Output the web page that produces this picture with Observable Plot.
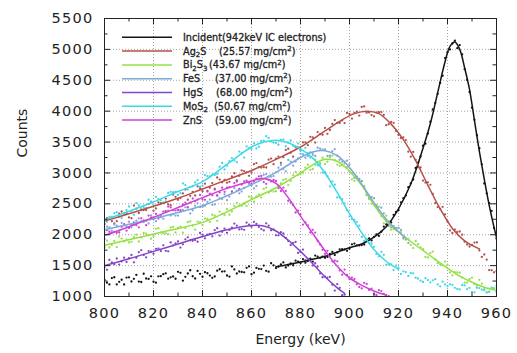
<!DOCTYPE html>
<html>
<head>
<meta charset="utf-8">
<script src="https://cdn.jsdelivr.net/npm/d3@7"></script>
<script src="https://cdn.jsdelivr.net/npm/@observablehq/plot@0.6"></script>
<style>
  body { margin: 0; background: #fff; }
  g[aria-label="x-axis tick label"] text, g[aria-label="y-axis tick label"] text { letter-spacing: 1.3px; }
</style>
</head>
<body>
<div id="chart"></div>
<script>
// ---------- data ----------
const keys = ["Incident", "Ag2S", "Bi2S3", "FeS", "HgS", "MoS2", "ZnS"];
const colors = ["#141414", "#b4504a", "#94e046", "#80a8d8", "#8445c8", "#3fd9e6", "#cf40d8"];

const legendFormula = ["Incident(942keV IC electrons)", "Ag_2S", "Bi_2S_3", "FeS", "HgS", "MoS_2", "ZnS"];
const legendThickness = ["", "(25.57 mg/cm^2)", "(43.67 mg/cm^2)", "(37.00 mg/cm^2)", "(68.00 mg/cm^2)", "(50.67 mg/cm^2)", "(59.00 mg/cm^2)"];

const xMajor = [800, 820, 840, 860, 880, 900, 920, 940, 960];
const xMinor = [810, 830, 850, 870, 890, 910, 930, 950];
const yMajor = [1000, 1500, 2000, 2500, 3000, 3500, 4000, 4500, 5000, 5500];
const yMinor = [1250, 1750, 2250, 2750, 3250, 3750, 4250, 4750, 5250];

// energies of the measured points (keV): even and odd channels
const dotEnergyEven = [800,802,804,806,808,810,812,814,816,818,820,822,824,826,828,830,832,834,836,838,
  840,842,844,846,848,850,852,854,856,858,860,862,864,866,868,870,872,874,876,878,
  880,882,884,886,888,890,892,894,896,898,900,902,904,906,908,910,912,914,916,918,
  920,922,924,926,928,930,932,934,936,938,940,942,944,946,948,950,952,954,956,958,960];
const dotEnergyOdd = [801,803,805,807,809,811,813,815,817,819,821,823,825,827,829,831,833,835,837,839,
  841,843,845,847,849,851,853,855,857,859,861,863,865,867,869,871,873,875,877,879,
  881,883,885,887,889,891,893,895,897,899,901,903,905,907,909,911,913,915,917,919,
  921,923,925,927,929,931,933,935,937,939,941,943,945,947,949,951,953,955,957,959];

// measured counts, even channels
const incidentEven = [1270,1196,1312,1238,1194,1310,1286,1242,1368,1284,
  1240,1326,1362,1288,1324,1400,1256,1372,1328,1414,
  1320,1376,1302,1418,1404,1340,1486,1372,1398,1464,
  1360,1462,1444,1416,1538,1460,1520,1470,1534,1580,
  1542,1548,1614,1662,1626,1626,1690,1670,1764,1762,
  1772,1856,1826,1842,1940,1966,1980,2132,2182,2322,
  2396,2592,2770,2894,3168,3440,3637,4027,4280,4573,
  4955,5095,5020,4920,4505,4055,3610,3140,2670,2385,1940];
const ag2sEven = [2172,2256,2184,2340,2340,2280,2472,2352,2400,2496,
  2388,2522,2512,2490,2648,2566,2668,2566,2692,2782,
  2704,2710,2836,2926,2848,2842,2944,2878,3040,3010,
  3004,3160,3088,3088,3232,3232,3164,3372,3328,3416,
  3372,3496,3584,3492,3628,3728,3695,3855,3810,3808,
  3956,3972,3928,4076,3980,3916,3984,3940,3788,3812,
  3616,3576,3344,3340,3096,2876,2848,2660,2448,2452,
  2216,2028,2044,2000,1842,1835,1876,1640,1596,1426,1412];
const bi2s3Even = [1797,1793,1899,1972,1891,1876,1960,1890,2029,1992,
  1977,2105,2024,2009,2126,2111,2032,2206,2149,2213,
  2156,2256,2323,2225,2336,2414,2377,2516,2468,2464,
  2603,2619,2602,2761,2711,2705,2830,2900,2871,3018,
  2978,3085,3049,3214,3162,3143,3252,3207,3114,3182,
  3019,2872,2868,2791,2575,2480,2453,2184,2217,2090,
  2106,1936,1931,1784,1847,1767,1632,1728,1539,1505,
  1515,1342,1389,1310,1226,1307,1176,1210,1063,1131,1166];
const fesEven = [2040,2118,2166,2064,2152,2210,2158,2266,2204,2182,
  2290,2290,2260,2390,2330,2310,2402,2444,2396,2508,
  2450,2532,2484,2626,2578,2560,2706,2712,2698,2854,
  2800,2790,2910,2980,2940,3010,3128,3026,3184,3182,
  3310,3246,3332,3274,3392,3380,3278,3386,3212,3156,
  3140,2922,2904,2760,2600,2590,2392,2344,2140,2140,
  2110,1953,1867];
const hgsEven = [1470,1592,1524,1516,1628,1620,1554,1718,1672,1736,
  1690,1774,1828,1732,1826,1890,1844,1958,1902,1886,
  2000,2002,1974,2106,2048,2030,2114,2148,2092,2196,
  2130,2176,2092,2184,2072,1990,2040,1950,1834,1882,
  1720,1590,1590,1538,1374,1320,1318,1096,1140,1030];
const mos2Even = [2174,2290,2351,2291,2352,2457,2322,2473,2448,2566,
  2486,2575,2521,2676,2688,2645,2831,2731,2785,2883,
  2794,2949,2972,2984,3161,3118,3240,3175,3319,3430,
  3387,3397,3517,3594,3507,3486,3536,3432,3525,3430,
  3357,3407,3248,3137,3140,3011,2784,2810,2601,2509,
  2296,2238,2147,1899,1868,1804,1651,1674,1522,1426,
  1461,1407,1332,1375,1291,1235,1266,1262,1195,1240,
  1166,1189,1121,1186,1118,1071,1140,1111,1068,1144,1073];
const znsEven = [1930,2048,2046,2034,2172,2110,2200,2120,2230,2310,
  2250,2262,2374,2456,2398,2400,2492,2444,2586,2568,
  2570,2700,2640,2640,2760,2760,2694,2858,2812,2876,
  2830,2906,2952,2824,2862,2870,2708,2706,2520,2360,
  2330,2198,2036,2034,1842,1690,1660,1580,1422,1436,
  1280,1282,1154,1222,1106,1040,1102,1044,1005];

// measured counts, odd channels
const incidentOdd = [1223,1299,1195,1271,1307,1243,1349,1235,1291,1327,
  1223,1329,1375,1311,1287,1383,1319,1425,1291,1367,
  1393,1339,1325,1441,1407,1323,1439,1405,1391,1487,
  1386,1448,1500,1402,1504,1482,1552,1502,1506,1564,
  1605,1575,1563,1647,1647,1640,1722,1714,1766,1740,
  1844,1826,1832,1918,1908,2006,2050,2166,2198,2368,
  2524,2636,2832,3082,3266,3473,3830,4133,4457,4860,
  5000,5140,5070,4680,4310,3860,3400,2830,2510,2110];
const ag2sOdd = [2268,2220,2220,2376,2352,2268,2424,2400,2400,2532,
  2425,2511,2585,2479,2613,2593,2731,2629,2635,2749,
  2827,2761,2731,2893,2887,2857,2995,2953,3031,2953,
  3142,3094,3094,3214,3142,3264,3256,3392,3264,3412,
  3494,3450,3574,3662,3618,3634,3793,3809,3848,3972,
  3880,3992,4068,3976,3936,3980,3986,3774,3826,3678,
  3566,3532,3264,3212,3088,2844,2808,2512,2420,2328,
  2068,2084,2052,1888,1809,1873,1746,1680,1428,1392];
const bi2s3Odd = [1905,1835,1798,1937,1922,1885,2002,1954,2016,1935,
  2096,2037,2022,2117,2036,2132,2108,2216,2082,2201,
  2261,2207,2307,2374,2320,2324,2463,2470,2499,2616,
  2534,2649,2742,2681,2697,2795,2887,2803,2961,2965,
  3004,3133,3064,3177,3246,3181,3279,3135,3126,3095,
  2896,2914,2866,2661,2500,2483,2302,2308,2082,2087,
  2043,1917,1835,1898,1796,1639,1702,1600,1522,1565,
  1390,1393,1385,1224,1283,1203,1270,1117,1075,1132];
const fesOdd = [2129,2067,2145,2193,2131,2119,2227,2215,2223,2311,
  2220,2310,2380,2310,2310,2381,2443,2345,2467,2449,
  2466,2568,2490,2592,2654,2618,2754,2670,2756,2822,
  2750,2890,2970,2940,2950,3084,3062,3210,3118,3236,
  3298,3274,3290,3408,3376,3274,3352,3280,3184,3198,
  2996,2938,2870,2640,2610,2456,2438,2220,2120,2110,
  2077,1930];
const hgsOdd = [1431,1553,1615,1567,1559,1672,1626,1750,1634,1728,
  1772,1736,1740,1874,1858,1792,1926,1910,1914,2028,
  1941,2013,2075,1987,2099,2077,2181,2085,2079,2163,
  2208,2124,2070,2148,2086,1990,2020,1900,1868,1706,
  1760,1610,1500,1486,1312,1304,1192,1200,1020];
const mos2Odd = [2210,2293,2365,2272,2399,2384,2513,2422,2430,2537,
  2613,2559,2538,2693,2694,2672,2803,2769,2845,2778,
  2965,2944,2967,3100,3057,3190,3202,3346,3248,3403,
  3480,3424,3522,3567,3491,3456,3539,3490,3439,3476,
  3305,3322,3317,3122,3004,2947,2863,2603,2577,2397,
  2256,2209,1964,1933,1858,1689,1723,1515,1518,1499,
  1364,1394,1382,1305,1256,1296,1229,1281,1165,1196,
  1195,1141,1115,1180,1140,1067,1136,1100,1078,1133];
const znsOdd = [2074,2032,2030,2128,2066,2165,2155,2265,2155,2275,
  2336,2288,2380,2442,2394,2396,2518,2520,2542,2644,
  2565,2665,2745,2685,2695,2772,2836,2740,2864,2848,
  2858,2944,2850,2888,2886,2754,2762,2550,2480,2390,
  2164,2152,2080,1898,1756,1740,1570,1570,1354,1348,
  1306,1198,1130,1204,1128,1026,1088,1020];

// fitted curves (energy keV, counts)
const incidentFitE = [870,880,890,900,905,910,915,920,925,930,933,936,939,941,943,945,947,949,951,953,955,957,959,960];
const incidentFitC = [1480,1560,1650,1790,1850,1960,2130,2420,2820,3400,3800,4300,4800,5050,5120,5000,4700,4350,3850,3350,2900,2480,2120,1960];
const ag2sFitE = [800,810,820,830,840,850,860,870,880,890,897,902,907,912,917,922,927,932,937,942,947,953];
const ag2sFitC = [2220,2340,2460,2590,2740,2890,3040,3220,3420,3680,3860,3960,4000,3960,3790,3540,3200,2800,2420,2100,1900,1770];
const bi2s3FitE = [800,810,820,830,840,850,860,870,880,885,890,895,900,905,910,915,920,925,930,935,940,945,950,955,960];
const bi2s3FitC = [1830,1920,2010,2100,2200,2370,2570,2760,3000,3130,3220,3190,3030,2800,2480,2220,2040,1890,1745,1600,1460,1330,1230,1150,1100];
const fesFitE = [800,810,820,830,840,850,860,870,880,885,890,895,900,905,910,915,920,923];
const fesFitC = [2080,2170,2260,2360,2470,2630,2810,3010,3250,3340,3360,3280,3090,2820,2520,2250,2050,1950];
const hgsFitE = [800,810,820,830,840,850,860,865,870,875,880,885,890,895,898];
const hgsFitC = [1500,1610,1730,1850,1970,2080,2150,2140,2060,1910,1730,1530,1320,1140,1050];
const mos2FitE = [800,810,820,830,840,850,860,865,870,875,880,885,890,895,900,905,910,915,920];
const mos2FitC = [2240,2380,2530,2700,2860,3140,3420,3500,3530,3490,3390,3240,3000,2680,2340,2030,1760,1570,1440];
const znsFitE = [800,810,820,830,840,850,860,865,870,875,880,885,890,895,900,905,910,915];
const znsFitC = [1990,2130,2280,2440,2600,2750,2870,2910,2830,2600,2300,2020,1740,1490,1300,1180,1090,1020];

// ---------- tables ----------
const seriesEven = [incidentEven, ag2sEven, bi2s3Even, fesEven, hgsEven, mos2Even, znsEven];
const seriesOdd = [incidentOdd, ag2sOdd, bi2s3Odd, fesOdd, hgsOdd, mos2Odd, znsOdd];
const seriesFitE = [incidentFitE, ag2sFitE, bi2s3FitE, fesFitE, hgsFitE, mos2FitE, znsFitE];
const seriesFitC = [incidentFitC, ag2sFitC, bi2s3FitC, fesFitC, hgsFitC, mos2FitC, znsFitC];

const dotRows = keys.flatMap((k, s) => [
  ...seriesEven[s].map((c, i) => ({s: k, e: dotEnergyEven[i], c})),
  ...seriesOdd[s].map((c, i) => ({s: k, e: dotEnergyOdd[i], c}))
]);
const fitRows = keys.flatMap((k, s) => seriesFitE[s].map((e, i) => ({s: k, e, c: seriesFitC[s][i]})));

// ---------- layout ----------
const W = 517, H = 353, mL = 104, mR = 21, mT = 18, mB = 57;
const pw = W - mL - mR, ph = H - mT - mB;
const ink = "#222";

const plot = Plot.plot({
  width: W, height: H,
  marginLeft: mL, marginRight: mR, marginTop: mT, marginBottom: mB,
  style: {fontFamily: "'DejaVu Sans', sans-serif", fontSize: "14px", color: ink, background: "#fff"},
  x: {domain: [800, 960], label: null},
  y: {domain: [1000, 5500], label: null},
  color: {domain: keys, range: colors},
  marks: [
    Plot.ruleX(xMajor.slice(1, -1), {stroke: "#9a9a9a", strokeWidth: 0.9, strokeDasharray: "1,2"}),
    Plot.ruleY(yMajor.slice(1, -1), {stroke: "#9a9a9a", strokeWidth: 0.9, strokeDasharray: "1,2"}),
    Plot.dot(dotRows, {x: "e", y: "c", fill: "s", r: 1.15, stroke: null, clip: true}),
    Plot.line(fitRows, {x: "e", y: "c", z: "s", stroke: "s", strokeWidth: 1.5, curve: "catmull-rom", clip: true}),
    // inward ticks on the four sides
    Plot.ruleX(xMajor, {insetTop: ph - 6, stroke: ink}),
    Plot.ruleX(xMajor, {insetBottom: ph - 6, stroke: ink}),
    Plot.ruleX(xMinor, {insetTop: ph - 3.5, stroke: ink}),
    Plot.ruleX(xMinor, {insetBottom: ph - 3.5, stroke: ink}),
    Plot.ruleY(yMajor, {insetRight: pw - 6, stroke: ink}),
    Plot.ruleY(yMajor, {insetLeft: pw - 6, stroke: ink}),
    Plot.ruleY(yMinor, {insetRight: pw - 3.5, stroke: ink}),
    Plot.ruleY(yMinor, {insetLeft: pw - 3.5, stroke: ink}),
    Plot.frame({stroke: ink, strokeWidth: 1}),
    Plot.axisX(xMajor, {tickSize: 0, tickPadding: 11, label: null, tickFormat: "d", fontSize: 14.5, fill: ink}),
    Plot.axisY(yMajor, {tickSize: 0, tickPadding: 11, label: null, tickFormat: "d", fontSize: 14.5, fill: ink}),
    Plot.text(["Energy (keV)"], {frameAnchor: "bottom", dy: 47, fontSize: 14, fill: ink}),
    Plot.text(["Counts"], {frameAnchor: "left", dx: -82, rotate: -90, fontSize: 14, fill: ink})
  ]
});
document.getElementById("chart").append(plot);

// ---------- in-plot legend ----------
const svg = d3.select(plot.tagName.toLowerCase() === "svg" ? plot : plot.querySelector("svg"));
const lg = svg.append("g")
  .attr("font-family", "'DejaVu Sans', sans-serif")
  .attr("font-size", "9.7px")
  .attr("text-anchor", "start");
const parenX = [0, 219, 209, 215, 216, 214, 215];

function richText(textSel, str) {
  // "_x" -> subscript, "^x" -> superscript
  let shift = 0, buf = "";
  const flush = () => { if (buf) { textSel.append("tspan").attr("dy", -shift).text(buf); shift = 0; buf = ""; } };
  for (let i = 0; i < str.length; i++) {
    const ch = str[i];
    if ((ch === "_" || ch === "^") && i + 1 < str.length) {
      flush();
      const target = ch === "_" ? 2.4 : -3.7;
      textSel.append("tspan").attr("dy", target - shift).attr("font-size", "7px").text(str[++i]);
      shift = target;
    } else buf += ch;
  }
  flush();
}

keys.forEach((k, i) => {
  const cy = 37.3 + i * 13.8;
  lg.append("line").attr("x1", 122).attr("x2", 172).attr("y1", cy).attr("y2", cy)
    .attr("stroke", colors[i]).attr("stroke-width", 1.5);
  const t1 = lg.append("text").attr("x", 183).attr("y", cy + 3.4).attr("fill", ink)
    .attr("stroke", ink).attr("stroke-width", 0.3);
  richText(t1, legendFormula[i]);
  if (legendThickness[i]) {
    const t2 = lg.append("text").attr("x", parenX[i]).attr("y", cy + 3.4).attr("fill", ink)
      .attr("stroke", ink).attr("stroke-width", 0.3);
    richText(t2, legendThickness[i]);
  }
});
</script>
</body>
</html>
